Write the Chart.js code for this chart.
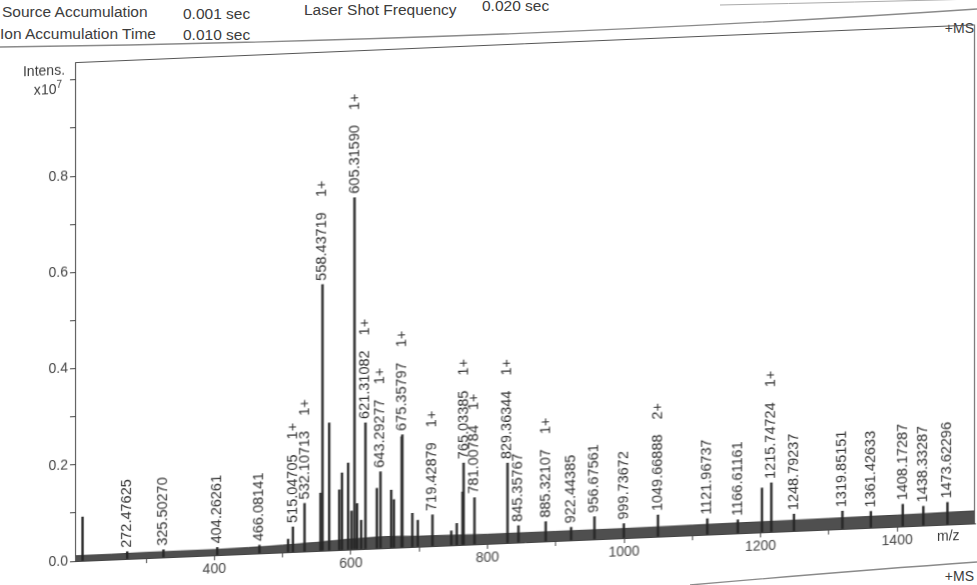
<!DOCTYPE html>
<html>
<head>
    <title>Mass spectrum +MS</title>
    <script src="https://cdn.jsdelivr.net/npm/chart.js"></script>
    <style>
        html,
        body {
            margin: 0;
            padding: 0;
            width: 977px;
            height: 585px;
            overflow: hidden;
            background: #fff;
            font-family: "Liberation Sans", Arial, sans-serif;
            color: #3c3c3c;
        }

        .hdr {
            position: absolute;
            font-size: 15.5px;
            line-height: 1;
            white-space: nowrap;
            transform: translateY(-50%);
        }

        #plot {
            position: absolute;
            left: 0;
            top: 0;
            width: 977px;
            height: 600px;
            transform-origin: 78px 561px;
            transform: skewY(-2.4deg);
        }

        .axis-note {
            position: absolute;
            font-size: 14px;
            line-height: 1;
            white-space: nowrap;
            transform: translateY(-50%);
        }

        svg.deco {
            position: absolute;
            left: 0;
            top: 0;
        }
    </style>
</head>

<body>
    <svg class="deco" width="977" height="585">
        <path d="M0 47 Q 520 40 977 9" fill="none" stroke="#8a8a8a" stroke-width="1.3" />
        <path d="M720 5 Q 860 2 977 -1" fill="none" stroke="#aaa" stroke-width="1" />
        <path d="M690 585 Q 850 571 977 562" fill="none" stroke="#8a8a8a" stroke-width="1.3" />
    </svg>

    <div class="hdr" style="left:2px; top:12px;">Source Accumulation</div>
    <div class="hdr" style="left:183px; top:14px;">0.001 sec</div>
    <div class="hdr" style="left:304px; top:10px;">Laser Shot Frequency</div>
    <div class="hdr" style="left:482px; top:6px;">0.020 sec</div>
    <div class="hdr" style="left:0px; top:34px;">Ion Accumulation Time</div>
    <div class="hdr" style="left:183px; top:35px;">0.010 sec</div>
    <div class="hdr" style="right:3px; top:28px; font-size:14px;">+MS</div>
    <div class="hdr" style="right:3px; top:576px; font-size:14px;">+MS</div>

    <div id="plot">
        <canvas id="spectrum" width="977" height="600"></canvas>
        <div class="axis-note" style="right:912px; top:69px;">Intens.</div>
        <div class="axis-note" style="right:915px; top:87px;">x10<sup style="font-size:10px;">7</sup></div>
        <div class="axis-note" style="left:937px; top:572px;">m/z</div>
    </div>

    <script>
        // labelled peaks (m/z, intensity x10^7, charge)
        const labeledMz = [272.47625, 325.50270, 404.26261, 466.08141, 515.04705, 532.10713, 558.43719,
            605.31590, 621.31082, 643.29277, 675.35797, 719.42879, 765.03385, 781.00784, 829.36344,
            845.35767, 885.32107, 922.44385, 956.67561, 999.73672, 1049.66888, 1121.96737, 1166.61161,
            1215.74724, 1248.79237, 1319.85151, 1361.42633, 1408.17287, 1438.33287, 1473.62296];
        const labeledIntensity = [0.015, 0.016, 0.016, 0.017, 0.052, 0.100, 0.553,
            0.731, 0.262, 0.159, 0.234, 0.065, 0.170, 0.097, 0.166,
            0.035, 0.041, 0.027, 0.047, 0.030, 0.045, 0.033, 0.028,
            0.102, 0.035, 0.037, 0.034, 0.046, 0.040, 0.046];
        const labeledCharge = ['', '', '', '', '1+', '1+', '1+',
            '1+', '1+', '1+', '1+', '1+', '1+', '1+', '1+',
            '', '1+', '', '', '', '2+', '', '',
            '1+', '', '', '', '', '', ''];

        // other visible peaks without a label
        const otherMz = [207, 508, 555.5, 568.2, 583, 587, 596, 601, 609, 615, 638, 659, 663, 674.4,
            690, 698, 747, 755, 763.5, 1202];
        const otherIntensity = [0.091, 0.027, 0.120, 0.265, 0.125, 0.160, 0.180, 0.080, 0.095, 0.060,
            0.125, 0.120, 0.100, 0.230, 0.070, 0.055, 0.030, 0.045, 0.110, 0.092];

        // top of the noise band
        const noiseMz = [196, 250, 300, 350, 400, 450, 500, 550, 600, 650, 700, 750, 800, 900, 1000,
            1100, 1200, 1300, 1400, 1514];
        const noiseIntensity = [0.011, 0.011, 0.012, 0.012, 0.012, 0.013, 0.015, 0.018, 0.022, 0.024,
            0.022, 0.021, 0.020, 0.020, 0.020, 0.021, 0.022, 0.023, 0.024, 0.026];

        const FONT = '"Liberation Sans", Arial, sans-serif';

        const peakLabels = {
            id: 'peakLabels',
            afterDatasetsDraw(chart) {
                const ctx = chart.ctx;
                const meta = chart.getDatasetMeta(0);
                ctx.save();
                ctx.font = `14.5px ${FONT}`;
                ctx.fillStyle = '#333';
                ctx.textBaseline = 'middle';
                ctx.textAlign = 'left';
                meta.data.forEach((bar, i) => {
                    const txt = labeledMz[i].toFixed(5);
                    ctx.save();
                    ctx.translate(bar.x, bar.y - 4);
                    ctx.rotate(-Math.PI / 2);
                    ctx.fillText(txt, 0, 0);
                    if (labeledCharge[i]) {
                        ctx.fillText(labeledCharge[i], ctx.measureText(txt).width + 15, 0);
                    }
                    ctx.restore();
                });
                ctx.restore();
            }
        };

        const frame = {
            id: 'frame',
            afterDraw(chart) {
                const { left, right, top, bottom } = chart.chartArea;
                const ctx = chart.ctx;
                ctx.save();
                ctx.strokeStyle = '#555';
                ctx.lineWidth = 1;
                ctx.beginPath();
                ctx.moveTo(left, top + 0.5);
                ctx.lineTo(right - 0.5, top + 0.5);
                ctx.lineTo(right - 0.5, bottom);
                ctx.stroke();
                ctx.restore();
            }
        };

        const barStyle = {
            type: 'bar',
            backgroundColor: '#262626',
            borderWidth: 0,
            barThickness: 1.7,
            grouped: false,
        };

        new Chart(document.getElementById('spectrum'), {
            type: 'bar',
            data: {
                datasets: [
                    { ...barStyle, label: 'labelled', data: labeledMz.map((x, i) => ({ x, y: labeledIntensity[i] })), order: 0 },
                    { ...barStyle, label: 'peaks', data: otherMz.map((x, i) => ({ x, y: otherIntensity[i] })), order: 1 },
                    {
                        type: 'line',
                        label: 'noise',
                        data: noiseMz.map((x, i) => ({ x, y: noiseIntensity[i] })),
                        borderColor: '#404040',
                        backgroundColor: '#4f4f4f',
                        borderWidth: 1,
                        pointRadius: 0,
                        fill: 'origin',
                        tension: 0,
                        order: 2,
                    },
                ],
            },
            options: {
                responsive: false,
                animation: false,
                layout: { padding: { top: 62, right: 2, bottom: 9, left: 0 } },
                plugins: {
                    legend: { display: false },
                    tooltip: { enabled: false },
                },
                scales: {
                    x: {
                        type: 'linear',
                        min: 196,
                        max: 1514,
                        offset: false,
                        afterFit: (s) => { s.height = 30; },
                        afterBuildTicks: (s) => { s.ticks = s.ticks.filter((t) => t.value % 100 === 0); },
                        border: { display: true, color: '#444', width: 1 },
                        grid: { drawOnChartArea: false, drawTicks: true, tickLength: 5, tickColor: '#444', offset: false },
                        ticks: {
                            stepSize: 100,
                            autoSkip: false,
                            maxRotation: 0,
                            padding: 1,
                            color: '#444',
                            font: { family: FONT, size: 14 },
                            callback: (v) => (v % 200 === 0 && v >= 400 ? String(v) : ''),
                        },
                    },
                    y: {
                        min: 0,
                        max: 1.037,
                        afterFit: (s) => { s.width = 75; },
                        afterBuildTicks: (s) => {
                            s.ticks = s.ticks.filter((t) => Math.abs(t.value * 10 - Math.round(t.value * 10)) < 1e-6 && t.value <= 1.0001);
                        },
                        border: { display: true, color: '#444', width: 1 },
                        grid: { drawOnChartArea: false, drawTicks: true, tickLength: 5, tickColor: '#444' },
                        ticks: {
                            stepSize: 0.1,
                            autoSkip: false,
                            padding: 2,
                            color: '#444',
                            font: { family: FONT, size: 14 },
                            callback: (v) => {
                                const k = Math.round(v * 10);
                                return k % 2 === 0 && k < 10 ? (k / 10).toFixed(1) : '';
                            },
                        },
                    },
                },
            },
            plugins: [peakLabels, frame],
        });
    </script>
</body>
</html>
